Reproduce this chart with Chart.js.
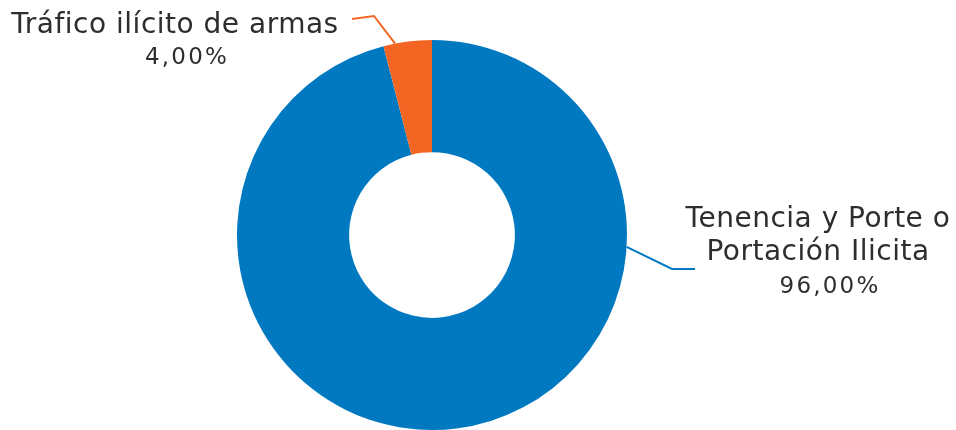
<!DOCTYPE html>
<html>
<head>
<meta charset="utf-8">
<script src="https://cdn.jsdelivr.net/npm/chart.js@4/dist/chart.umd.min.js"></script>
<style>
  html, body { margin: 0; padding: 0; background: #fff; }
  #wrap { width: 956px; height: 430px; position: relative; }
</style>
</head>
<body>
<div id="wrap"><canvas id="donut-chart"></canvas></div>
<script>
// data
const categories = ['Tenencia y Porte o Portación Ilicita', 'Tráfico ilícito de armas'];
const shares = [96, 4];
const sliceColors = ['#0079c1', '#f26522'];

// label text lines per slice (percent line is added from the data)
const labelLines = [
  ['Tenencia y Porte o', 'Portación Ilicita'],
  ['Tráfico ilícito de armas'],
];

// label layout: where leader starts on the ring (deg from top, clockwise),
// elbow + end of the leader, text centre + baselines
const labelLayout = [
  { angle: 93.5, elbow: [672, 269], end: [695, 269], cx: [818, 818, 830], base: [227, 260, 293] },
  { angle: -10.9, elbow: [374, 16], end: [352, 19], cx: [175, 187], base: [33, 64] },
];

const fmtPct = v => v.toFixed(2).replace('.', ',') + '%';

const donutLabels = {
  id: 'donutLabels',
  afterDatasetsDraw(chart) {
    const c = chart.ctx;
    const arcs = chart.getDatasetMeta(0).data;
    c.save();
    arcs.forEach((arc, i) => {
      const lay = labelLayout[i];
      const a = lay.angle * Math.PI / 180;
      const sx = arc.x + arc.outerRadius * Math.sin(a);
      const sy = arc.y - arc.outerRadius * Math.cos(a);
      c.strokeStyle = sliceColors[i];
      c.lineWidth = 2;
      c.beginPath();
      c.moveTo(sx, sy);
      c.lineTo(lay.elbow[0], lay.elbow[1]);
      c.lineTo(lay.end[0], lay.end[1]);
      c.stroke();

      const lines = labelLines[i].concat([fmtPct(shares[i])]);
      c.fillStyle = '#2e2e2e';
      c.textAlign = 'center';
      c.textBaseline = 'alphabetic';
      lines.forEach((t, j) => {
        const last = j === lines.length - 1;
        c.font = last ? '23px "DejaVu Sans", sans-serif' : '28px "DejaVu Sans", sans-serif';
        c.letterSpacing = last ? '2.2px' : '0.5px';
        c.fillText(t, lay.cx[j], lay.base[j]);
      });
    });
    c.restore();
  }
};

new Chart(document.getElementById('donut-chart'), {
  type: 'doughnut',
  data: {
    labels: categories,
    datasets: [{
      data: shares,
      backgroundColor: sliceColors,
      borderWidth: 0,
    }]
  },
  options: {
    responsive: true, maintainAspectRatio: false, animation: false,
    cutout: '42.5%',
    layout: { padding: { left: 237, right: 329, top: 40, bottom: 0 } },
    plugins: { legend: { display: false }, tooltip: { enabled: false } }
  },
  plugins: [donutLabels]
});
</script>
</body>
</html>
